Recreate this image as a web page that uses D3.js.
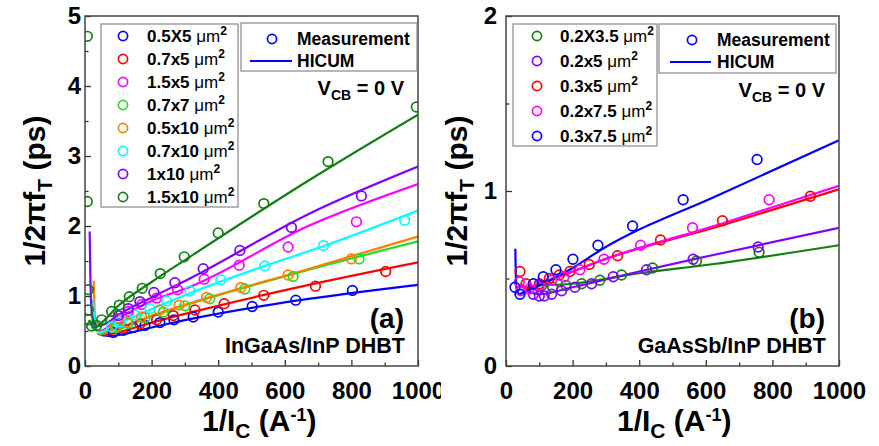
<!DOCTYPE html>
<html><head><meta charset="utf-8">
<script src="https://cdn.jsdelivr.net/npm/d3@7"></script>
<style>
body{margin:0;background:#fff}
svg{display:block}
text{font-family:"Liberation Sans",Arial,sans-serif;font-weight:bold;fill:#000}
</style>
</head><body><svg id="c" width="879" height="446"></svg>
<script>
// ---------- DATA ----------
const xTicks = [0, 200, 400, 600, 800, 1000];
const xMinorTicks = [100, 300, 500, 700, 900];
const aYTicks = [0, 1, 2, 3, 4, 5];
const aYMinorTicks = [0.5, 1.5, 2.5, 3.5, 4.5];
const bYTicks = [0, 1, 2];
const bYMinorTicks = [0.5, 1.5];

// Panel (a): InGaAs/InP DHBT
const aLabels = ["0.5X5", "0.7x5", "1.5x5", "0.7x7", "0.5x10", "0.7x10", "1x10", "1.5x10"];
const a_meas_0p5x5 = [[85,0.48],[115,0.51],[145,0.55],[180,0.58],[225,0.62],[267,0.66],[325,0.70],[400,0.77],[502,0.85],[633,0.94],[803,1.08]];
const a_meas_0p7x5 = [[115,0.54],[165,0.60],[215,0.66],[265,0.72],[330,0.80],[418,0.89],[537,1.01],[692,1.14],[903,1.35]];
const a_meas_1p5x5 = [[100,0.68],[130,0.78],[170,0.88],[215,0.97],[278,1.09],[358,1.24],[463,1.44],[610,1.70],[815,2.06]];
const a_meas_0p7x7 = [[95,0.55],[130,0.61],[180,0.69],[235,0.77],[300,0.86],[375,0.96],[480,1.10],[625,1.28],[823,1.53]];
const a_meas_0p5x10 = [[90,0.56],[125,0.63],[170,0.70],[223,0.80],[283,0.87],[365,0.98],[468,1.12],[610,1.30],[800,1.53]];
const a_meas_0p7x10 = [[80,0.56],[105,0.63],[150,0.73],[195,0.82],[245,0.93],[315,1.07],[408,1.23],[540,1.43],[716,1.72],[960,2.08]];
const a_meas_1x10 = [[100,0.72],[130,0.82],[165,0.92],[207,1.05],[270,1.19],[355,1.39],[465,1.65],[620,1.98],[830,2.43]];
const a_meas_1p5x10 = [[7,4.71],[7,2.35],[10,1.09],[10,0.80],[10,0.66],[20,0.57],[35,0.58],[50,0.66],[80,0.78],[103,0.87],[133,0.99],[172,1.11],[226,1.32],[298,1.56],[400,1.90],[537,2.32],[730,2.92],[995,3.70]];

const a_fit_0p5x5 = [[50,0.44],[75,0.43],[200,0.55],[315,0.67],[645,0.94],[1000,1.16]];
const a_fit_0p7x5 = [[38,0.46],[55,0.44],[80,0.46],[200,0.62],[330,0.78],[645,1.13],[1000,1.48]];
const a_fit_1p5x5 = [[25,0.62],[32,0.52],[45,0.50],[100,0.68],[200,0.93],[315,1.13],[675,2.01],[1000,2.60]];
const a_fit_0p7x7 = [[35,0.50],[45,0.46],[70,0.48],[200,0.71],[365,0.96],[645,1.34],[1000,1.78]];
const a_fit_0p5x10 = [[26,1.22],[28,0.90],[31,0.60],[40,0.48],[70,0.50],[200,0.72],[365,0.97],[645,1.35],[1000,1.85]];
const a_fit_0p7x10 = [[24,0.95],[27,0.70],[32,0.52],[45,0.48],[80,0.56],[150,0.71],[315,1.04],[540,1.43],[715,1.71],[1000,2.22]];
const a_fit_1x10 = [[14,1.92],[16,1.30],[19,0.85],[24,0.65],[35,0.57],[60,0.60],[100,0.73],[200,0.98],[315,1.25],[675,2.18],[1000,2.85]];
const a_fit_1p5x10 = [[12,0.66],[20,0.58],[30,0.55],[50,0.62],[100,0.86],[200,1.20],[315,1.56],[675,2.66],[1000,3.59]];

// Panel (b): GaAsSb/InP DHBT
const bLabels = ["0.2X3.5", "0.2x5", "0.3x5", "0.2x7.5", "0.3x7.5"];
const b_meas_0p2x3p5 = [[107,0.46],[140,0.45],[180,0.46],[227,0.47],[282,0.49],[347,0.52],[440,0.56],[572,0.60],[760,0.65]];
const b_meas_0p2x5 = [[82,0.41],[100,0.40],[115,0.40],[137,0.41],[167,0.43],[207,0.45],[257,0.47],[322,0.51],[422,0.55],[562,0.61],[757,0.68]];
const b_meas_0p3x5 = [[42,0.54],[60,0.47],[100,0.47],[130,0.50],[160,0.52],[192,0.54],[250,0.58],[335,0.63],[464,0.72],[650,0.83],[914,0.97]];
const b_meas_0p2x7p5 = [[40,0.48],[45,0.43],[70,0.44],[100,0.46],[137,0.49],[174,0.51],[222,0.55],[294,0.61],[404,0.69],[560,0.79],[790,0.95]];
const b_meas_0p3x7p5 = [[27,0.45],[42,0.41],[82,0.47],[112,0.51],[150,0.55],[201,0.61],[276,0.69],[380,0.80],[532,0.95],[754,1.18]];

const b_fit_0p2x3p5 = [[95,0.46],[200,0.47],[400,0.53],[612,0.58],[1000,0.69]];
const b_fit_0p2x5 = [[60,0.43],[100,0.41],[200,0.45],[400,0.54],[612,0.63],[1000,0.79]];
const b_fit_0p3x5 = [[45,0.47],[60,0.45],[100,0.47],[200,0.54],[282,0.60],[642,0.80],[1000,1.01]];
const b_fit_0p2x7p5 = [[45,0.46],[60,0.44],[100,0.47],[200,0.54],[282,0.60],[642,0.81],[1000,1.03]];
const b_fit_0p3x7p5 = [[28,0.67],[31,0.45],[40,0.41],[60,0.43],[100,0.46],[200,0.56],[282,0.66],[642,0.98],[1000,1.29]];

// ---------- STYLE ----------
const aColors = ["#0000ff","#ff0000","#ff00ff","#22dd22","#ff8000","#00ffff","#8000ff","#108010"];
const bColors = ["#108010","#8000ff","#ff0000","#ff00ff","#0000ff"];

const aMeas = [a_meas_0p5x5,a_meas_0p7x5,a_meas_1p5x5,a_meas_0p7x7,a_meas_0p5x10,a_meas_0p7x10,a_meas_1x10,a_meas_1p5x10];
const aFit = [a_fit_0p5x5,a_fit_0p7x5,a_fit_1p5x5,a_fit_0p7x7,a_fit_0p5x10,a_fit_0p7x10,a_fit_1x10,a_fit_1p5x10];
const bMeas = [b_meas_0p2x3p5,b_meas_0p2x5,b_meas_0p3x5,b_meas_0p2x7p5,b_meas_0p3x7p5];
const bFit = [b_fit_0p2x3p5,b_fit_0p2x5,b_fit_0p3x5,b_fit_0p2x7p5,b_fit_0p3x7p5];

const svg = d3.select("#c");
const defs = svg.append("defs");
defs.append("clipPath").attr("id","leftClip").append("rect").attr("x",0).attr("y",0).attr("width",441).attr("height",446);

function drawPanel(root, cfg) {
  const x = d3.scaleLinear().domain([0,1000]).range([cfg.x0, cfg.x1]);
  const y = d3.scaleLinear().domain([0,cfg.ymax]).range([366, 16]);
  const clipId = cfg.id + "plot";
  defs.append("clipPath").attr("id", clipId).append("rect")
    .attr("x", cfg.x0).attr("y", 16).attr("width", cfg.x1-cfg.x0).attr("height", 350);

  const line = d3.line().x(d=>x(d[0])).y(d=>y(d[1])).curve(d3.curveMonotoneX);
  const plot = root.append("g").attr("clip-path", `url(#${clipId})`);
  cfg.fits.forEach((f,i)=>{
    plot.append("path").datum(f).attr("d", line).attr("fill","none")
      .attr("stroke", cfg.colors[i]).attr("stroke-width", 2.2);
  });
  cfg.meas.forEach((m,i)=>{
    plot.append("g").selectAll("circle").data(m).join("circle")
      .attr("cx", d=>x(d[0])).attr("cy", d=>y(d[1])).attr("r", 4.8)
      .attr("fill","none").attr("stroke", cfg.colors[i]).attr("stroke-width", 1.7);
  });

  // axes
  const xa = root.append("g").attr("transform", `translate(0,366)`)
    .call(d3.axisBottom(x).tickValues(xTicks).tickSize(-6).tickSizeOuter(0).tickPadding(16).tickFormat(d3.format("d")));
  root.append("g").attr("transform", `translate(0,366)`)
    .call(d3.axisBottom(x).tickValues(xMinorTicks).tickSize(-3.5).tickSizeOuter(0).tickFormat(""));
  const ya = root.append("g").attr("transform", `translate(${cfg.x0},0)`)
    .call(d3.axisLeft(y).tickValues(cfg.yTicks).tickSize(-6).tickSizeOuter(0).tickPadding(cfg.yPad).tickFormat(d3.format("d")));
  root.append("g").attr("transform", `translate(${cfg.x0},0)`)
    .call(d3.axisLeft(y).tickValues(cfg.yMinor).tickSize(-3.5).tickSizeOuter(0).tickFormat(""));
  root.selectAll(".domain").attr("stroke","none");
  root.selectAll(".tick line").attr("stroke","#333").attr("stroke-width",1.3);
  xa.selectAll("text").style("font-size","24px").style("font-family","'Liberation Sans',Arial,sans-serif").style("font-weight","bold").attr("fill","#000");
  ya.selectAll("text").style("font-size","24px").style("font-family","'Liberation Sans',Arial,sans-serif").style("font-weight","bold").attr("fill","#000");

  root.append("rect").attr("x",cfg.x0).attr("y",16).attr("width",cfg.x1-cfg.x0).attr("height",350)
    .attr("fill","none").attr("stroke","#444").attr("stroke-width",1.5);

  // legend 1 (sizes)
  const L = cfg.leg1;
  root.append("rect").attr("x",L.x).attr("y",L.y).attr("width",L.w).attr("height",L.h)
    .attr("fill","#fff").attr("stroke","#888").attr("stroke-width",1.2);
  cfg.labels.forEach((lab,i)=>{
    const cy = L.y + L.first + i*L.step;
    root.append("circle").attr("cx",L.cx).attr("cy",cy).attr("r",4.6)
      .attr("fill","none").attr("stroke",cfg.colors[i]).attr("stroke-width",1.7);
    const t = root.append("text").attr("x",L.tx).attr("y",cy+6).style("font-size","17px");
    t.append("tspan").text(lab + " ");
    t.append("tspan").text("μm").style("font-weight","normal");
    t.append("tspan").text("2").attr("dy",-7).style("font-size","12px");
  });

  // legend 2 (Measurement / HICUM)
  const M = cfg.leg2;
  root.append("rect").attr("x",M.x).attr("y",M.y).attr("width",M.w).attr("height",M.h)
    .attr("fill","#fff").attr("stroke","#888").attr("stroke-width",1.2);
  root.append("circle").attr("cx",M.cx).attr("cy",M.y+16).attr("r",4.6)
    .attr("fill","none").attr("stroke","#0000ff").attr("stroke-width",1.7);
  root.append("text").attr("x",M.tx).attr("y",M.y+22).style("font-size","17.5px").text("Measurement");
  root.append("line").attr("x1",M.lx1).attr("x2",M.lx2).attr("y1",M.y+38).attr("y2",M.y+38)
    .attr("stroke","#0000ff").attr("stroke-width",2.2);
  root.append("text").attr("x",M.tx).attr("y",M.y+44).style("font-size","17.5px").text("HICUM");

  // V_CB
  const v = root.append("text").attr("x",cfg.x1-14).attr("y",cfg.vy).attr("text-anchor","end").style("font-size","20px");
  v.append("tspan").text("V");
  v.append("tspan").text("CB").attr("dy",5).style("font-size","14px");
  v.append("tspan").text(" = 0 V").attr("dy",-5);

  // panel tag and device label
  root.append("text").attr("x",cfg.x1-14).attr("y",328).attr("text-anchor","end").style("font-size","28px").text(cfg.tag);
  root.append("text").attr("x",cfg.x1-13).attr("y",353).attr("text-anchor","end").style("font-size","21.5px").text(cfg.device);

  // x title
  const xt = root.append("text").attr("x",cfg.xtx).attr("y",431).style("font-size","30px");
  xt.append("tspan").text("1/I");
  xt.append("tspan").text("C").attr("dy",7).style("font-size","21px");
  xt.append("tspan").text(" (A").attr("dy",-7);
  xt.append("tspan").text("-1").attr("dy",-10).style("font-size","18px");
  xt.append("tspan").text(")").attr("dy",10);

  // y title
  const yt = root.append("text").attr("transform",`translate(${cfg.ytx},191) rotate(-90)`)
    .attr("text-anchor","middle").style("font-size","30px");
  yt.append("tspan").text("1/2πf");
  yt.append("tspan").text("T").attr("dy",7).style("font-size","21px");
  yt.append("tspan").text(" (ps)").attr("dy",-7);
}

const gA = svg.append("g").attr("clip-path","url(#leftClip)");
drawPanel(gA, {
  id:"a", x0:85, x1:418, ymax:5, yTicks:aYTicks, yMinor:aYMinorTicks, yPad:4,
  colors:aColors, labels:aLabels, meas:aMeas, fits:aFit,
  leg1:{x:101,y:24,w:137,h:183,first:12,step:23,cx:123,tx:147},
  leg2:{x:241,y:23,w:176,h:48,cx:272,tx:297,lx1:250,lx2:292},
  vy:95, tag:"(a)", device:"InGaAs/InP DHBT", xtx:202, ytx:45
});
const gB = svg.append("g");
drawPanel(gB, {
  id:"b", x0:506, x1:839, ymax:2, yTicks:bYTicks, yMinor:bYMinorTicks, yPad:9,
  colors:bColors, labels:bLabels, meas:bMeas, fits:bFit,
  leg1:{x:513,y:24,w:144,h:122,first:12,step:25,cx:537,tx:560},
  leg2:{x:659,y:24,w:177,h:49,cx:692,tx:717,lx1:670,lx2:711},
  vy:97, tag:"(b)", device:"GaAsSb/InP DHBT", xtx:617, ytx:467
});
</script></body></html>
